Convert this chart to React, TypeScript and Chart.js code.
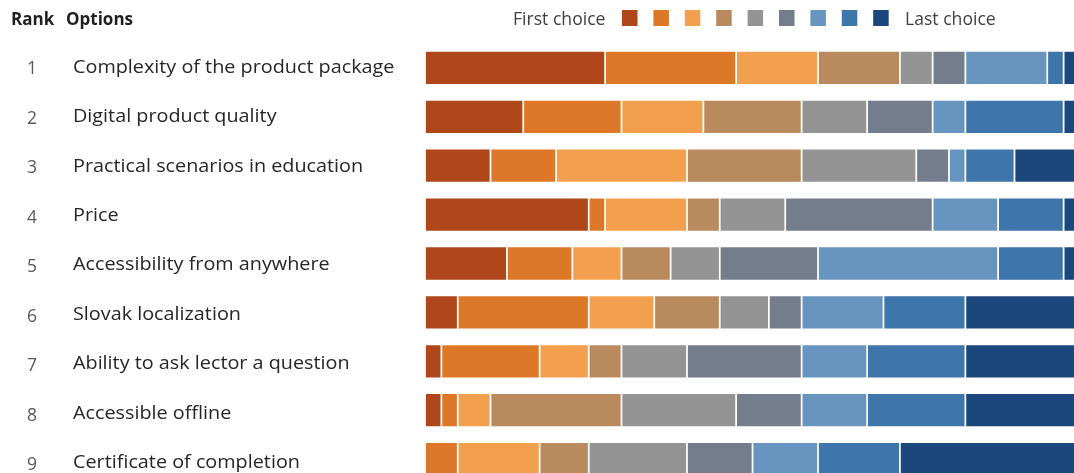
import React, { useEffect, useRef } from "react";
import { Chart, registerables } from "chart.js";

Chart.register(...registerables);

// Options (rows), ranked 1..9
const rankNumbers = ["1", "2", "3", "4", "5", "6", "7", "8", "9"];
const options = [
  "Complexity of the product package",
  "Digital product quality",
  "Practical scenarios in education",
  "Price",
  "Accessibility from anywhere",
  "Slovak localization",
  "Ability to ask lector a question",
  "Accessible offline",
  "Certificate of completion",
];

// Number of respondents placing each option at each choice position
const choice1 = [11, 6, 4, 10, 5, 2, 1, 1, 0];
const choice2 = [8, 6, 4, 1, 4, 8, 6, 1, 2];
const choice3 = [5, 5, 8, 5, 3, 4, 3, 2, 5];
const choice4 = [5, 6, 7, 2, 3, 4, 2, 8, 3];
const choice5 = [2, 4, 7, 4, 3, 3, 4, 7, 6];
const choice6 = [2, 4, 2, 9, 6, 2, 7, 4, 4];
const choice7 = [5, 2, 1, 4, 11, 5, 4, 4, 4];
const choice8 = [1, 6, 3, 4, 4, 5, 6, 6, 5];
const choice9 = [1, 1, 4, 1, 1, 7, 7, 7, 11];

const choiceLabels = ["1st", "2nd", "3rd", "4th", "5th", "6th", "7th", "8th", "9th"];
const choiceColors = [
  "#B0471A",
  "#DD7828",
  "#F2A04D",
  "#BA8A5F",
  "#949494",
  "#737D8C",
  "#6895BF",
  "#3E75AA",
  "#1B477C",
];
const legendFirst = "First choice";
const legendLast = "Last choice";
const headerRank = "Rank";
const headerOptions = "Options";

const CANVAS_W = 1100;
const CANVAS_H = 500;

const labelPlugin = {
  id: "rankLabels",
  afterDraw(chart: any) {
    const ctx = chart.ctx;
    const y = chart.scales.y;
    ctx.save();
    // header
    ctx.fillStyle = "#1f1f1f";
    ctx.textBaseline = "middle";
    ctx.textAlign = "left";
    ctx.font = "bold 17px 'Open Sans'";
    ctx.fillText(headerRank, 11, 20);
    ctx.fillText(headerOptions, 66, 20);

    // legend
    ctx.font = "17.6px 'Open Sans'";
    ctx.fillStyle = "#404040";
    ctx.fillText(legendFirst, 513, 20);
    choiceColors.forEach((c, i) => {
      const x = 622 + i * 31.4;
      ctx.fillStyle = "#ffffff";
      ctx.fillRect(x - 1, 9, 17.5, 18);
      ctx.fillStyle = c;
      ctx.fillRect(x, 10, 15.5, 16);
    });
    ctx.fillStyle = "#404040";
    ctx.fillText(legendLast, 905, 20);

    // row labels
    options.forEach((name, i) => {
      const py = y.getPixelForValue(i) + i * 0.55 - 0.5;
      ctx.font = "17.5px 'Open Sans'";
      ctx.fillStyle = "#595959";
      ctx.textAlign = "center";
      ctx.fillText(rankNumbers[i], 32, py + 2);
      ctx.font = "18.5px 'Open Sans'";
      ctx.fillStyle = "#262626";
      ctx.textAlign = "left";
      ctx.save();
      ctx.translate(73, py);
      ctx.scale(1.07, 1);
      ctx.fillText(name, 0, 0);
      ctx.restore();
    });
    ctx.restore();
  },
};

export default function App() {
  const ref = useRef<HTMLCanvasElement | null>(null);

  useEffect(() => {
    const canvas = ref.current;
    if (!canvas) return;
    const series = [choice1, choice2, choice3, choice4, choice5, choice6, choice7, choice8, choice9];
    const chart = new Chart(canvas, {
      type: "bar",
      data: {
        labels: options,
        datasets: series.map((d, i) => ({
          label: choiceLabels[i],
          data: d,
          backgroundColor: choiceColors[i],
          borderColor: "rgba(255,255,255,0.85)",
          borderWidth: 1.2,
          borderSkipped: false,
          barThickness: 34,
        })),
      },
      options: {
        indexAxis: "y",
        animation: false,
        responsive: false,
        maintainAspectRatio: false,
        devicePixelRatio: 1,
        layout: {
          padding: { left: 425, right: CANVAS_W - 1080, top: 43.5, bottom: CANVAS_H - 483.5 },
        },
        scales: {
          x: { stacked: true, display: false, min: 0, max: 40 },
          y: { stacked: true, display: false },
        },
        plugins: {
          legend: { display: false },
          tooltip: { enabled: false },
        },
      },
      plugins: [labelPlugin],
    });
    return () => chart.destroy();
  }, []);

  return (
    <div
      style={{
        position: "fixed",
        left: 0,
        top: 0,
        width: 1074,
        height: 473,
        overflow: "hidden",
        background: "#ffffff",
      }}
    >
      <canvas ref={ref} width={CANVAS_W} height={CANVAS_H} style={{ display: "block", width: CANVAS_W, height: CANVAS_H }} />
    </div>
  );
}
